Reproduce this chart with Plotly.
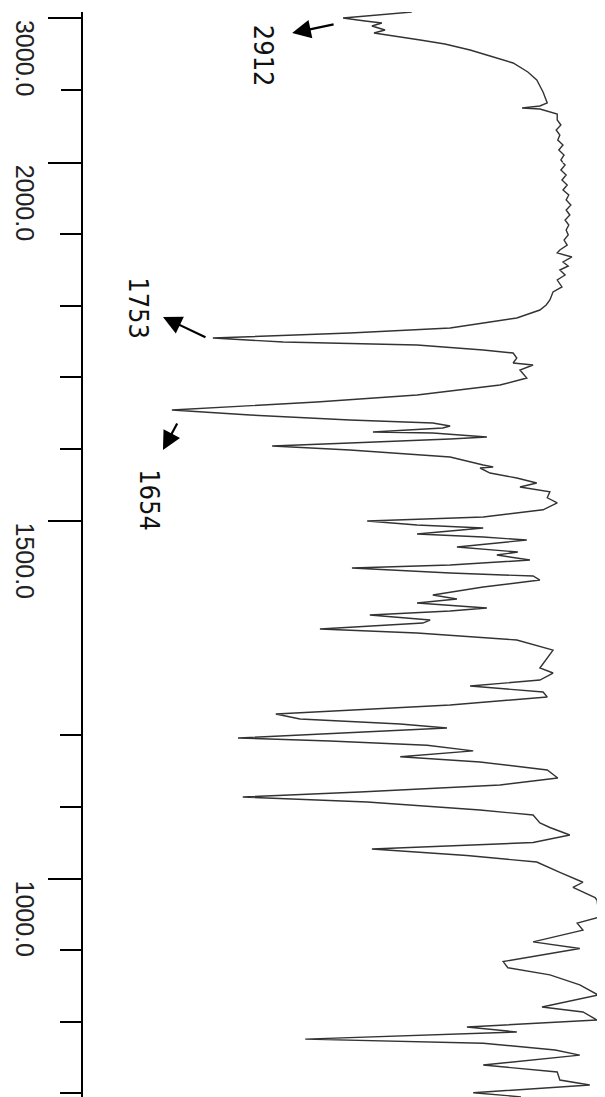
import numpy as np
import plotly.graph_objects as go

# IR spectrum (wavenumber, cm-1 ; transmittance, %)
wavenumber = [
    3041.5, 3020.7, 3000.0, 2979.3, 2965.5, 2944.7, 2917.1, 2896.4, 2875.6, 2848.0,
    2820.3, 2778.9, 2737.4, 2689.0, 2626.9, 2571.6, 2488.7, 2412.7, 2392.0, 2378.1,
    2371.2, 2357.4, 2336.6, 2295.2, 2260.6, 2226.1, 2191.5, 2157.0, 2122.4, 2087.9,
    2053.3, 2018.8, 2000.0,
    1996.8, 1989.8, 1982.8, 1975.8, 1968.8, 1961.9, 1954.9, 1947.9, 1940.9, 1933.9,
    1926.9, 1920.0, 1913.0, 1906.0, 1899.0, 1892.0, 1885.0, 1878.0, 1873.9, 1868.3,
    1861.3, 1855.7, 1850.1, 1843.1, 1836.1, 1826.4, 1819.4, 1808.2, 1801.2, 1794.2,
    1787.2, 1783.0, 1777.5, 1769.1, 1762.1, 1755.1, 1749.5, 1745.3, 1738.3, 1734.1,
    1727.2, 1720.2, 1717.4, 1710.4, 1699.2, 1689.4, 1675.5, 1665.7, 1654.5, 1647.5,
    1640.6, 1636.4, 1632.2, 1629.4, 1623.8, 1622.4, 1616.8, 1614.0, 1608.4, 1604.2,
    1598.6, 1588.9, 1577.7, 1574.9, 1573.5, 1566.5, 1559.5, 1552.5, 1546.9, 1540.3,
    1531.9, 1524.9, 1515.1, 1505.1, 1499.5, 1493.9, 1489.7, 1481.4, 1477.1, 1472.9,
    1463.1, 1456.1, 1451.9, 1444.9, 1437.9, 1433.8, 1426.8, 1422.6, 1417.0, 1407.3,
    1396.1, 1390.5, 1384.9, 1378.0, 1373.8, 1368.1, 1361.1, 1356.9, 1348.5, 1343.0,
    1333.2, 1319.2, 1294.1, 1287.1, 1277.3, 1268.9, 1260.6, 1253.6, 1242.4, 1229.8,
    1222.9, 1215.9, 1210.3, 1203.3, 1196.3, 1192.1, 1186.2, 1178.4, 1170.1, 1162.8,
    1151.6, 1140.5, 1130.7, 1120.8, 1113.9, 1106.9, 1095.7, 1088.7, 1077.6, 1071.3,
    1060.8, 1050.3, 1041.3, 1032.2, 1023.0, 1008.6, 994.8, 987.5, 973.5, 969.7,
    956.3, 946.4, 937.6, 928.0, 911.5, 902.2, 892.4, 884.0, 875.3, 865.4,
    851.4, 837.3, 820.5, 813.6, 802.3, 792.6, 785.6, 781.4, 775.6, 769.9,
    760.5, 753.3, 739.5, 729.7, 718.5, 711.6, 700.7, 695.0,
]
transmittance = [
    63.2, 56.2, 50.1, 54.3, 57.5, 55.6, 58.1, 56.0, 60.0, 64.8,
    69.5, 74.3, 78.1, 82.5, 85.3, 87.0, 88.2, 89.0, 87.6, 84.2,
    87.6, 89.1, 90.9, 90.9, 91.6, 90.7, 91.4, 91.0, 92.0, 91.2,
    92.2, 91.6, 92.0,
    92.4, 91.6, 92.6, 91.8, 92.8, 92.0, 93.1, 92.6, 93.5, 92.6,
    93.3, 92.4, 93.1, 92.6, 93.0, 92.2, 92.8, 91.4, 90.9, 93.7,
    92.0, 93.0, 91.4, 92.4, 90.9, 91.8, 90.1, 89.5, 88.8, 87.6,
    84.8, 83.2, 78.1, 70.5, 51.4, 25.3, 38.7, 64.2, 76.8, 82.5,
    83.2, 82.5, 86.3, 83.8, 85.1, 80.0, 64.2, 45.1, 17.5, 32.4,
    51.4, 67.2, 70.5, 69.1, 55.8, 67.2, 77.5, 70.5, 51.4, 36.6,
    51.4, 70.5, 76.8, 78.7, 76.2, 78.1, 83.2, 87.0, 83.8, 89.5,
    89.0, 90.9, 88.2, 76.8, 54.7, 64.2, 76.8, 64.2, 76.8, 85.1,
    71.8, 83.4, 79.4, 85.7, 70.5, 51.8, 70.5, 86.3, 87.6, 76.8,
    67.2, 71.8, 64.2, 77.5, 70.5, 55.2, 66.7, 65.3, 45.7, 64.2,
    83.2, 90.1, 87.6, 90.1, 87.6, 74.3, 88.2, 89.0, 70.5, 37.3,
    41.9, 61.0, 69.9, 49.5, 30.1, 47.6, 66.1, 74.9, 61.0, 76.2,
    89.0, 91.0, 80.0, 53.3, 31.0, 54.7, 76.2, 86.3, 87.6, 89.5,
    93.3, 86.3, 55.6, 73.7, 87.0, 91.4, 95.8, 93.9, 98.1, 98.5,
    98.7, 99.0, 94.7, 95.8, 86.3, 95.2, 87.6, 80.6, 81.5, 89.5,
    95.2, 98.7, 88.0, 95.8, 98.5, 73.7, 83.2, 64.8, 42.9, 76.8,
    90.5, 95.2, 76.8, 90.9, 91.4, 97.1, 74.9, 84.0,
]

# axis ticks
major_top = [3000]
minor_top = [2500]
major_bottom = [2000, 1500, 1000]
minor_bottom = [1900, 1800, 1700, 1600, 1200, 1100, 900, 800, 700]
tick_labels = ["3000.0", "2000.0", "1500.0", "1000.0"]
tick_label_vals = [3000, 2000, 1500, 1000]

# peak annotations
peak_labels = ["2912", "1753", "1654"]

wn = np.array(wavenumber)
tr = np.array(transmittance)
top = wn >= 2000
bot = wn <= 2000

line = dict(color="#333333", width=1.4)
fig = go.Figure()
fig.add_trace(go.Scatter(x=tr[top], y=wn[top], mode="lines", line=line,
                         xaxis="x", yaxis="y", hoverinfo="skip"))
fig.add_trace(go.Scatter(x=tr[bot], y=wn[bot], mode="lines", line=line,
                         xaxis="x2", yaxis="y2", hoverinfo="skip"))

# page has an 8px body margin; figure is sized to fit the window exactly
W, H = 597, 1089
split = 1 - 154.7 / H
top_end = 1 - 4.0 / H

xcommon = dict(range=[0.57, 100], visible=False, showgrid=False, zeroline=False,
               domain=[0, 1])
ycommon = dict(showline=True, linecolor="black", linewidth=2, ticks="outside",
               ticklen=33, tickwidth=2, tickcolor="black", showgrid=False,
               zeroline=False, showticklabels=False, tickmode="array")

fig.update_layout(
    width=W, height=H,
    margin=dict(l=75, r=0, t=0, b=0),
    paper_bgcolor="white", plot_bgcolor="white",
    showlegend=False,
    xaxis=dict(**xcommon, anchor="y"),
    xaxis2=dict(**xcommon, anchor="y2"),
    yaxis=dict(**ycommon, domain=[split, top_end], range=[2000, 3041.5],
               tickvals=major_top, anchor="x",
               minor=dict(tickmode="array", tickvals=minor_top, ticks="outside",
                          ticklen=20, tickwidth=2, tickcolor="black")),
    yaxis2=dict(**ycommon, domain=[0, split], range=[694.8, 2000],
                tickvals=major_bottom, anchor="x2",
                minor=dict(tickmode="array", tickvals=minor_bottom, ticks="outside",
                           ticklen=21, tickwidth=2, tickcolor="black")),
)

# rotated tick labels
for txt, v in zip(tick_labels, tick_label_vals):
    fig.add_annotation(text=txt, x=-0.111, xref="paper", y=v,
                       yref="y" if v > 2000 else "y2", textangle=90,
                       xanchor="center", yanchor="top", showarrow=False,
                       font=dict(family="Liberation Sans, Arial", size=25, color="#222"))

# peak labels and arrows
label_font = dict(family="DejaVu Sans Condensed, DejaVu Sans", size=27, color="#111")
label_pos = [(34.9, 2965.5, "y"), (11.2, 1843.1, "y2"), (13.3, 1574.9, "y2")]
for txt, (lx, ly, ref) in zip(peak_labels, label_pos):
    fig.add_annotation(text=txt, x=lx, xref="x" if ref == "y" else "x2", y=ly,
                       yref=ref, textangle=90, xanchor="center", yanchor="top",
                       showarrow=False, font=label_font)

arrows = [(40.4, 2896.0, "y", 43, -9), (15.8, 1784.4, "y2", 44, 21),
          (15.8, 1598.6, "y2", 15, -28)]
for hx, hy, ref, ax, ay in arrows:
    fig.add_annotation(text="", x=hx, xref="x" if ref == "y" else "x2", y=hy,
                       yref=ref, showarrow=True, ax=ax, ay=ay, arrowhead=2,
                       arrowsize=1.7, arrowwidth=2.2, arrowcolor="black")

fig.write_html("out.html")
